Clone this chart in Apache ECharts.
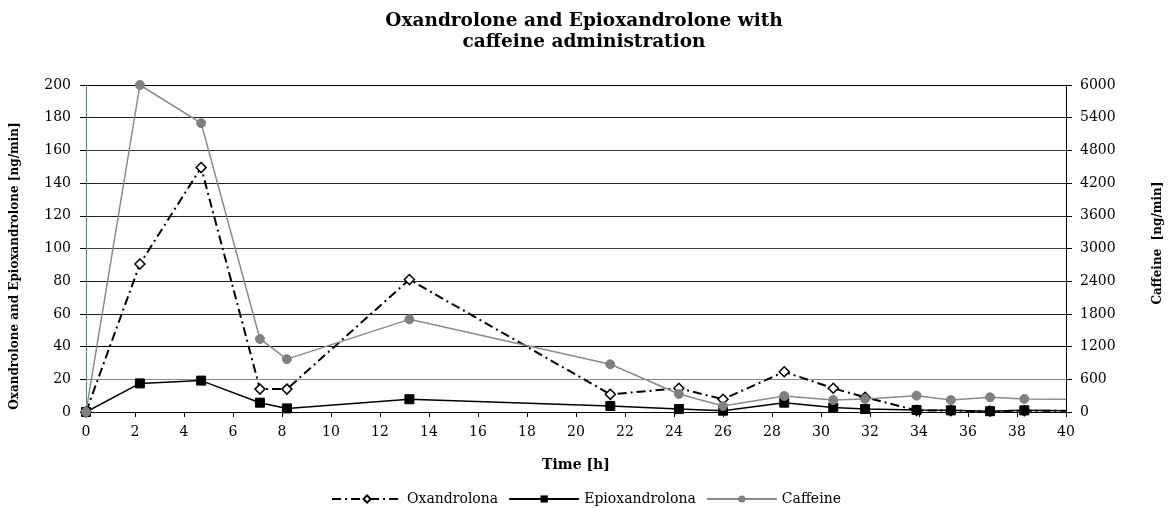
<!DOCTYPE html>
<html>
<head>
<meta charset="utf-8">
<script src="https://cdn.jsdelivr.net/npm/echarts@6/dist/echarts.min.js"></script>
<style>html,body{margin:0;padding:0;background:#fff}#c{width:1172px;height:508px}</style>
</head>
<body>
<div id="c"></div>
<script>
const timeH = [0, 2.2, 4.7, 7.1, 8.2, 13.2, 21.4, 24.2, 26.0, 28.5, 30.5, 31.8, 33.9, 35.3, 36.9, 38.3];
const oxandrolona = [0, 90.5, 149.5, 14, 14, 81, 10.8, 14.5, 7.8, 24.6, 14.5, 9, 1, 0.8, 0.5, 0.8];
const epioxandrolona = [0, 17.5, 19.2, 5.7, 2.2, 7.8, 3.7, 1.8, 0.8, 5.7, 2.7, 1.8, 1.2, 1, 0.5, 1];
const caffeine = [0, 6000, 5300, 1340, 970, 1700, 875, 330, 110, 294, 220, 240, 300, 220, 270, 240];
// lines run on to the right edge without a marker
const tailTime = 40;
const tailOxa = 0.8, tailEpi = 0.8, tailCaf = 235;

const seriesNames = ['Oxandrolona', 'Epioxandrolona', 'Caffeine'];
const FONT = 'DejaVu Serif';

function pairs(vals, tail) {
  const d = timeH.map((t, i) => [t, vals[i]]);
  d.push({ value: [tailTime, tail], symbol: 'none' });
  return d;
}

const chart = echarts.init(document.getElementById('c'), null, { renderer: 'canvas' });
chart.setOption({
  animation: false,
  backgroundColor: '#fff',
  textStyle: { fontFamily: FONT },
  title: {
    text: 'Oxandrolone and Epioxandrolone with\ncaffeine administration',
    left: 579, top: 6, textAlign: 'center',
    textStyle: { fontFamily: FONT, fontWeight: 'bold', fontSize: 18.5, color: '#000', lineHeight: 21 }
  },
  graphic: [{
    type: 'text', x: 15, y: 266, rotation: Math.PI / 2,
    style: { text: 'Oxandrolone and Epioxandrolone [ng/min]', font: 'bold 12px "DejaVu Serif"', fill: '#000', align: 'center', verticalAlign: 'middle' }
  }, {
    type: 'text', x: 1158, y: 243, rotation: Math.PI / 2,
    style: { text: 'Caffeine  [ng/min]', font: 'bold 12px "DejaVu Serif"', fill: '#000', align: 'center', verticalAlign: 'middle' }
  }],
  grid: { left: 86, right: 106, top: 85, bottom: 96, containLabel: false },
  legend: {
    data: seriesNames,
    top: 487, left: 'center',
    itemWidth: 70, itemHeight: 9, itemGap: 10,
    textStyle: { fontFamily: FONT, fontSize: 14, color: '#000' }
  },
  xAxis: {
    type: 'value', min: 0, max: 40, interval: 2,
    name: 'Time [h]', nameLocation: 'middle', nameGap: 46,
    nameTextStyle: { fontFamily: FONT, fontWeight: 'bold', fontSize: 14, color: '#000' },
    axisLine: { show: true, onZero: false, lineStyle: { color: '#000', width: 1 } },
    axisTick: { show: true, inside: false, length: 5, lineStyle: { color: '#000' } },
    axisLabel: { fontFamily: FONT, fontSize: 14, color: '#000', margin: 13 },
    splitLine: { show: false }
  },
  yAxis: [{
    type: 'value', min: 0, max: 200, interval: 20, position: 'left',
    axisLine: { show: true, lineStyle: { color: '#4a7ebb', width: 1 } },
    axisTick: { show: true, length: 6, lineStyle: { color: '#000' } },
    axisLabel: { fontFamily: FONT, fontSize: 14, color: '#000', margin: 15 },
    splitLine: { show: true, lineStyle: { color: ['#000', '#888', '#000', '#222', '#222', '#444', '#222', '#222', '#333', '#222', '#000'], width: 1 } }
  }, {
    type: 'value', min: 0, max: 6000, interval: 600, position: 'right',
    axisLine: { show: true, lineStyle: { color: '#000', width: 1 } },
    axisTick: { show: true, length: 6, lineStyle: { color: '#000' } },
    axisLabel: { fontFamily: FONT, fontSize: 14, color: '#000', margin: 14, formatter: v => String(v) },
    splitLine: { show: false }
  }],
  series: [{
    name: 'Oxandrolona', type: 'line', yAxisIndex: 0,
    data: pairs(oxandrolona, tailOxa),
    symbol: 'diamond', symbolSize: 10,
    itemStyle: { color: '#fff', borderColor: '#000', borderWidth: 1.5 },
    lineStyle: { color: '#000', width: 2, type: [9, 4, 2, 4] },
    clip: true
  }, {
    name: 'Epioxandrolona', type: 'line', yAxisIndex: 0,
    data: pairs(epioxandrolona, tailEpi),
    symbol: 'rect', symbolSize: 9,
    itemStyle: { color: '#000', borderColor: '#000' },
    lineStyle: { color: '#000', width: 1.5, type: 'solid' },
    clip: true
  }, {
    name: 'Caffeine', type: 'line', yAxisIndex: 1,
    data: pairs(caffeine, tailCaf),
    symbol: 'circle', symbolSize: 9,
    itemStyle: { color: '#808080', borderColor: '#808080' },
    lineStyle: { color: '#8a8a8a', width: 1.5, type: 'solid' },
    clip: true
  }]
});
</script>
</body>
</html>
